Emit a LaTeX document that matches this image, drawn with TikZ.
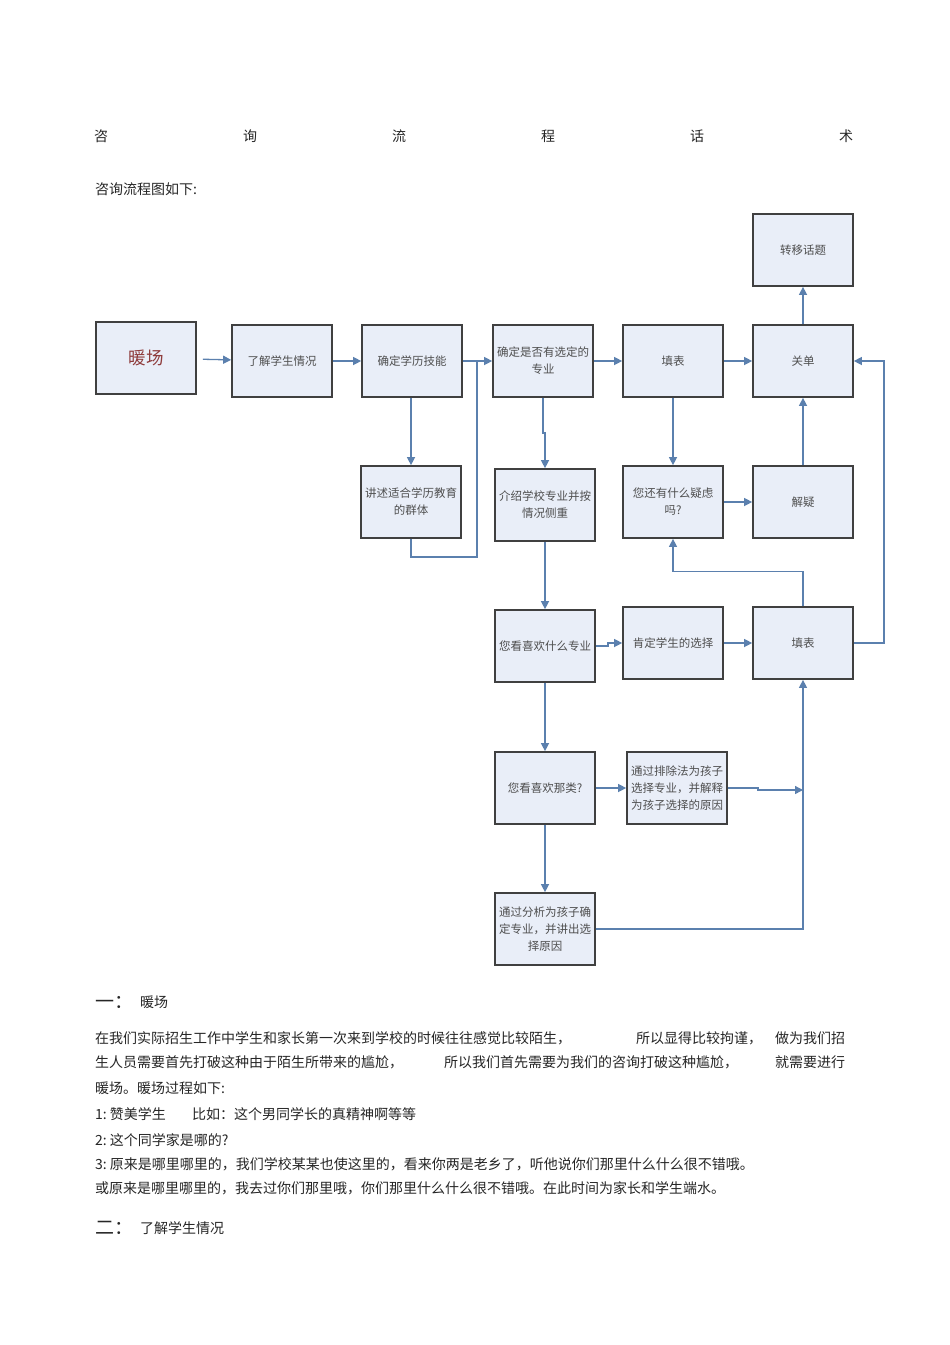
\documentclass[tikz,border=0pt]{standalone}
\usepackage{fontspec}
\setmainfont{Noto Sans CJK SC}
\usetikzlibrary{arrows.meta}
\definecolor{boxfill}{HTML}{E9EEF8}
\definecolor{boxline}{HTML}{404040}
\definecolor{linkblue}{HTML}{5B80AE}
\definecolor{boxtext}{HTML}{4E4E4E}
\definecolor{warmred}{HTML}{8E3B3B}
\definecolor{bodytext}{HTML}{262626}
\tikzset{
  stepbox/.style={draw=boxline,line width=1.7pt,fill=boxfill,minimum width=100pt,minimum height=72pt,
    align=center,text=boxtext,font=\fontsize{11.5}{17}\selectfont},
  link/.style={draw=linkblue,line width=1.3pt,-{Triangle[width=8pt,length=8pt]}},
  plain/.style={draw=linkblue,line width=1.3pt},
  txt/.style={anchor=west,inner sep=0pt,text=bodytext,font=\fontsize{14}{16}\selectfont},
  head/.style={anchor=west,inner sep=0pt,text=bodytext,font=\fontsize{19}{20}\selectfont}
}
\begin{document}
\begin{tikzpicture}[x=1pt,y=-1pt]
\useasboundingbox (0,0) rectangle (950,1345);
\fill[white] (0,0) rectangle (950,1345);
% title
\foreach \ch [count=\i] in {咨,询,流,程,话,术}
  \node[text=bodytext,font=\fontsize{14}{16}\selectfont,inner sep=0pt] (t\i) at ({101+(\i-1)*149},136) {\ch};
\node[txt] (intro) at (95,189) {咨询流程图如下:};
% boxes
\node[stepbox,font=\fontsize{17.5}{20}\selectfont,text=warmred] (warm) at (146,358) {暖场};
\node[stepbox] (know) at (282,361) {了解学生情况};
\node[stepbox] (skill) at (412,361) {确定学历技能};
\node[stepbox] (major) at (543,361) {确定是否有选定的\\专业};
\node[stepbox] (form1) at (673,361) {填表};
\node[stepbox] (close) at (803,361) {关单};
\node[stepbox] (topic) at (803,250) {转移话题};
\node[stepbox] (group) at (411,502) {讲述适合学历教育\\的群体};
\node[stepbox] (intro2) at (545,505) {介绍学校专业并按\\情况侧重};
\node[stepbox] (doubt) at (673,502) {您还有什么疑虑\\吗?};
\node[stepbox] (solve) at (803,502) {解疑};
\node[stepbox] (like) at (545,646) {您看喜欢什么专业};
\node[stepbox] (affirm) at (673,643) {肯定学生的选择};
\node[stepbox] (form2) at (803,643) {填表};
\node[stepbox] (kind) at (545,788) {您看喜欢那类?};
\node[stepbox] (elim) at (677,788) {通过排除法为孩子\\选择专业，并解释\\为孩子选择的原因};
\node[stepbox] (anal) at (545,929) {通过分析为孩子确\\定专业，并讲出选\\择原因};
\coordinate (j1) at (477,361);
\coordinate (j2) at (803,790);
% connectors
\draw[link,shorten <=6pt] (warm) -- (know);
\draw[link] (know) -- (skill);
\draw[link] (skill) -- (major);
\draw[link] (group.north |- skill.south) -- (group.north);
\draw[plain] (group.south) -- ++(0,18) -| (j1);
\draw[link] (major) -- (form1);
\draw[link] (major.south) -- ++(0,35) -| (intro2.north);
\draw[link] (form1) -- (close);
\draw[link] (close) -- (topic);
\draw[link] (form1) -- (doubt);
\draw[link] (doubt) -- (solve);
\draw[link] (solve) -- (close);
\draw[link] (form2.north) -- ++(0,-35) -| (doubt.south);
\draw[link] (form2.east) -- ++(30,0) |- (close.east);
\draw[link] (intro2) -- (like);
\draw[link] (like.east) -- ++(12,0) |- (affirm.west);
\draw[link] (affirm) -- (form2);
\draw[link] (like) -- (kind);
\draw[link] (kind) -- (elim);
\draw[link] (elim.east) -- ++(30,0) |- (j2);
\draw[link] (kind) -- (anal);
\draw[link] (anal.east) -| (form2.south);
% text below
\node[head] (h1) at (95,1002) {一：};
\node[txt] (h1t) at (140,1002) {暖场};
\node[txt] (p1a) at (95,1038) {在我们实际招生工作中学生和家长第一次来到学校的时候往往感觉比较陌生，};
\node[txt] (p1b) at (636,1038) {所以显得比较拘谨，};
\node[txt] (p1c) at (775,1038) {做为我们招};
\node[txt] (p2a) at (95,1062) {生人员需要首先打破这种由于陌生所带来的尴尬，};
\node[txt] (p2b) at (444,1062) {所以我们首先需要为我们的咨询打破这种尴尬，};
\node[txt] (p2c) at (775,1062) {就需要进行};
\node[txt] (p3) at (95,1088) {暖场。暖场过程如下:};
\node[txt] (s1a) at (95,1114) {1:\ 赞美学生};
\node[txt] (s1b) at (192,1114) {比如：这个男同学长的真精神啊等等};
\node[txt] (s2) at (95,1140) {2:\ 这个同学家是哪的?};
\node[txt] (s3) at (95,1164) {3:\ 原来是哪里哪里的，我们学校某某也使这里的，看来你两是老乡了，听他说你们那里什么什么很不错哦。};
\node[txt] (s4) at (95,1188) {或原来是哪里哪里的，我去过你们那里哦，你们那里什么什么很不错哦。在此时间为家长和学生端水。};
\node[head] (h2) at (95,1228) {二：};
\node[txt] (h2t) at (140,1228) {了解学生情况};
\end{tikzpicture}
\end{document}
